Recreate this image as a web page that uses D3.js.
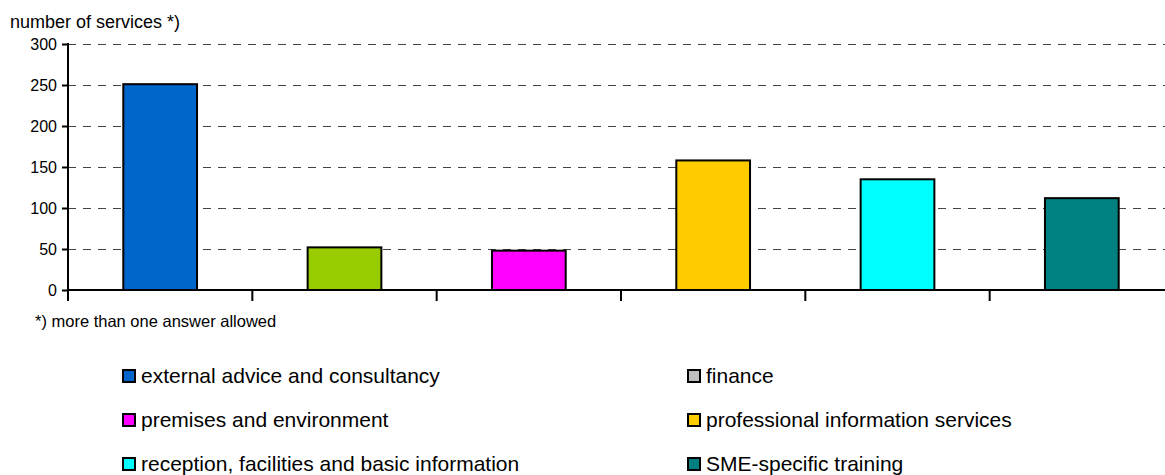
<!DOCTYPE html>
<html>
<head>
<meta charset="utf-8">
<script src="https://cdn.jsdelivr.net/npm/d3@7"></script>
<style>
  html, body { margin: 0; padding: 0; background: #fff; }
  svg { display: block; font-family: "Liberation Sans", Arial, sans-serif; }
</style>
</head>
<body>
<svg id="chart" width="1165" height="475"></svg>
<script>
// Service categories, counts and colours
const categories = [
  "external advice and consultancy",
  "finance",
  "premises and environment",
  "professional information services",
  "reception, facilities and basic information",
  "SME-specific training"
];
const values = [251, 52, 48, 158, 135, 112];
const barColors = ["#0066CC", "#99CC00", "#FF00FF", "#FFCC00", "#00FFFF", "#008080"];
const legendColors = ["#0066CC", "#C0C0C0", "#FF00FF", "#FFCC00", "#00FFFF", "#008080"];
const yTicks = [0, 50, 100, 150, 200, 250, 300];

const svg = d3.select("#chart");
const plotLeft = 68, plotTop = 44, plotBottom = 290;
const plotRight = 1174;

const x = d3.scaleBand().domain(categories).range([plotLeft, plotRight])
  .paddingInner(0.6).paddingOuter(0.3);
const y = d3.scaleLinear().domain([0, 300]).range([plotBottom, plotTop]);

// dashed gridlines
svg.append("g").selectAll("line")
  .data(yTicks.filter(d => d > 0))
  .join("line")
  .attr("x1", plotLeft).attr("x2", 1165)
  .attr("y1", d => Math.round(y(d)) + 0.5).attr("y2", d => Math.round(y(d)) + 0.5)
  .attr("stroke", "#444").attr("stroke-width", 1)
  .attr("stroke-dasharray", "8,7");

// bars
svg.append("g").selectAll("rect")
  .data(categories)
  .join("rect")
  .attr("x", d => x(d))
  .attr("y", (d, i) => y(values[i]))
  .attr("width", x.bandwidth())
  .attr("height", (d, i) => y(0) - y(values[i]))
  .attr("fill", (d, i) => barColors[i])
  .attr("stroke", "#000").attr("stroke-width", 2);

// y axis
const yAxis = d3.axisLeft(y).tickValues(yTicks).tickSize(6).tickPadding(5);
const gy = svg.append("g").attr("transform", `translate(${plotLeft},0)`).call(yAxis);
gy.select(".domain").remove();
gy.selectAll(".tick line").attr("stroke", "#000").attr("stroke-width", 2);
gy.selectAll(".tick text").attr("font-size", 16).attr("fill", "#000")
  .attr("font-family", "Liberation Sans, Arial, sans-serif");
svg.append("line").attr("x1", plotLeft).attr("x2", plotLeft).attr("y1", plotTop - 1).attr("y2", plotBottom + 11)
  .attr("stroke", "#000").attr("stroke-width", 2);

// x baseline with category boundary ticks
svg.append("line").attr("x1", plotLeft).attr("x2", 1165).attr("y1", plotBottom).attr("y2", plotBottom)
  .attr("stroke", "#000").attr("stroke-width", 2);
const boundaries = categories.map(d => x(d) - x.step() * x.paddingOuter());
svg.append("g").selectAll("line")
  .data(boundaries.slice(1))
  .join("line")
  .attr("x1", d => d).attr("x2", d => d)
  .attr("y1", plotBottom).attr("y2", plotBottom + 11)
  .attr("stroke", "#000").attr("stroke-width", 2);

// axis title and footnote
svg.append("text").attr("x", 10).attr("y", 28).attr("font-size", 18)
  .text("number of services *)");
svg.append("text").attr("x", 35).attr("y", 327).attr("font-size", 16.5)
  .text("*) more than one answer allowed");

// legend, two columns
const legend = svg.append("g").selectAll("g")
  .data(categories)
  .join("g")
  .attr("transform", (d, i) => `translate(${i % 2 === 0 ? 123 : 688},${370 + Math.floor(i / 2) * 44})`);
legend.append("rect").attr("width", 12).attr("height", 12)
  .attr("fill", (d, i) => legendColors[i]).attr("stroke", "#000").attr("stroke-width", 2);
legend.append("text").attr("x", 18).attr("y", 13).attr("font-size", 21)
  .text(d => d);
</script>
</body>
</html>
